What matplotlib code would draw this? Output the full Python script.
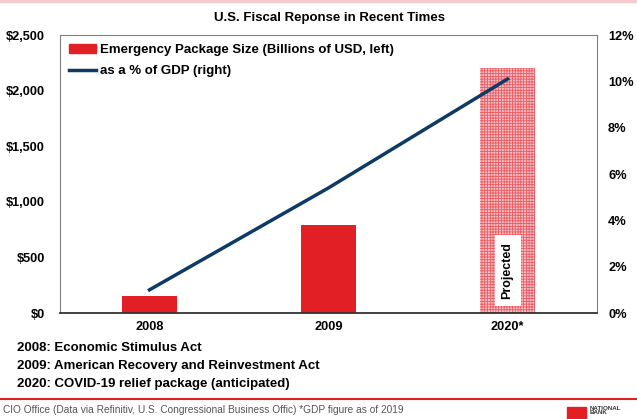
import matplotlib
matplotlib.use("Agg")
import matplotlib.pyplot as plt
from matplotlib.patches import Rectangle
from matplotlib.lines import Line2D

plt.rcParams['font.family'] = ['Liberation Sans', 'DejaVu Sans']
plt.rcParams['hatch.linewidth'] = 0.6

categories = ["2008", "2009", "2020*"]
package_size = [152, 787, 2200]          # billions of USD (left axis)
pct_gdp = [1.0, 5.4, 10.1]               # % of GDP (right axis)
left_ticks = [0, 500, 1000, 1500, 2000, 2500]
left_labels = ["$0", "$500", "$1,000", "$1,500", "$2,000", "$2,500"]
right_ticks = [0, 2, 4, 6, 8, 10, 12]
right_labels = ["0%", "2%", "4%", "6%", "8%", "10%", "12%"]
notes = ["2008: Economic Stimulus Act",
         "2009: American Recovery and Reinvestment Act",
         "2020: COVID-19 relief package (anticipated)"]
title = "U.S. Fiscal Reponse in Recent Times"
source = "CIO Office (Data via Refinitiv, U.S. Congressional Business Offic) *GDP figure as of 2019"

W, H = 637, 419
fig = plt.figure(figsize=(W/100, H/100), dpi=100)
ax = fig.add_axes([60/W, (H-313)/H, 537/W, 278/H])

red = '#e31f26'
navy = '#0d3b66'
x = list(range(len(categories)))
bw = 0.31

# bars
for i, v in enumerate(package_size):
    if i < 2:
        ax.bar(i, v, width=bw, color=red, zorder=2)
    else:
        ax.bar(i, v, width=bw, facecolor='#f7c3c7', edgecolor='#ee5a62',
               hatch='++++++', linewidth=0, zorder=2)

ax.set_xlim(-0.5, 2.5)
ax.set_ylim(0, 2500)
ax.set_yticks(left_ticks)
ax.set_yticklabels(left_labels, fontsize=9.2, fontweight='bold')
ax.set_xticks(x)
ax.set_xticklabels(categories, fontsize=9.2, fontweight='bold')
ax.tick_params(axis='both', length=0)
ax.tick_params(axis='y', pad=11)
ax.tick_params(axis='x', pad=6)
for s in ['top', 'left', 'right']:
    ax.spines[s].set_color('#808080')
    ax.spines[s].set_linewidth(0.8)
ax.spines['bottom'].set_color('#333333')
ax.spines['bottom'].set_linewidth(1.3)

ax2 = ax.twinx()
ax2.plot(x, pct_gdp, color=navy, lw=2.5, zorder=3)
ax2.set_ylim(0, 12)
ax2.set_yticks(right_ticks)
ax2.set_yticklabels(right_labels, fontsize=9.2, fontweight='bold')
ax2.tick_params(axis='y', length=0, pad=8)
for s in ax2.spines.values():
    s.set_visible(False)

# "Projected" label
ax.text(2, 380, "Projected", rotation=90, ha='center', va='center',
        fontsize=9, fontweight='bold', zorder=5,
        bbox=dict(facecolor='white', edgecolor='none', pad=5))

# legend
handles = [Rectangle((0, 0), 1, 1, color=red),
           Line2D([0], [0], color=navy, lw=2.5)]
labels = ["Emergency Package Size (Billions of USD, left)", "as a % of GDP (right)"]
ax.legend(handles, labels, loc='upper left', bbox_to_anchor=(0.0, 1.0),
          frameon=False, prop={'weight': 'bold', 'size': 9.5},
          handlelength=2.0, handletextpad=0.3, labelspacing=0.65,
          borderaxespad=0.3)

fig.text(330/W, 1-18/H, title, ha='center', va='center', fontsize=9.5, fontweight='bold')

for i, n in enumerate(notes):
    fig.text(17/W, 1-(348+18*i)/H, n, ha='left', va='center', fontsize=9.5, fontweight='bold')

# decorative lines
fig.add_artist(Line2D([0, 1], [1-399/H, 1-399/H], color=red, lw=1.5))
fig.add_artist(Line2D([0, 1], [1-1/H, 1-1/H], color='#f6c9cc', lw=2.5))
fig.text(3/W, 1-410/H, source, ha='left', va='center', fontsize=7.3, color='#555555')
fig.text(590/W, 1-406/H, "NATIONAL\nBANK", ha='left', va='top', fontsize=4.5,
         fontweight='bold', color='#333333', linespacing=0.85)
fig.add_artist(Rectangle((567/W, 0), 19/W, 12/H, color=red, transform=fig.transFigure))

fig.savefig("out.png", dpi=100)
